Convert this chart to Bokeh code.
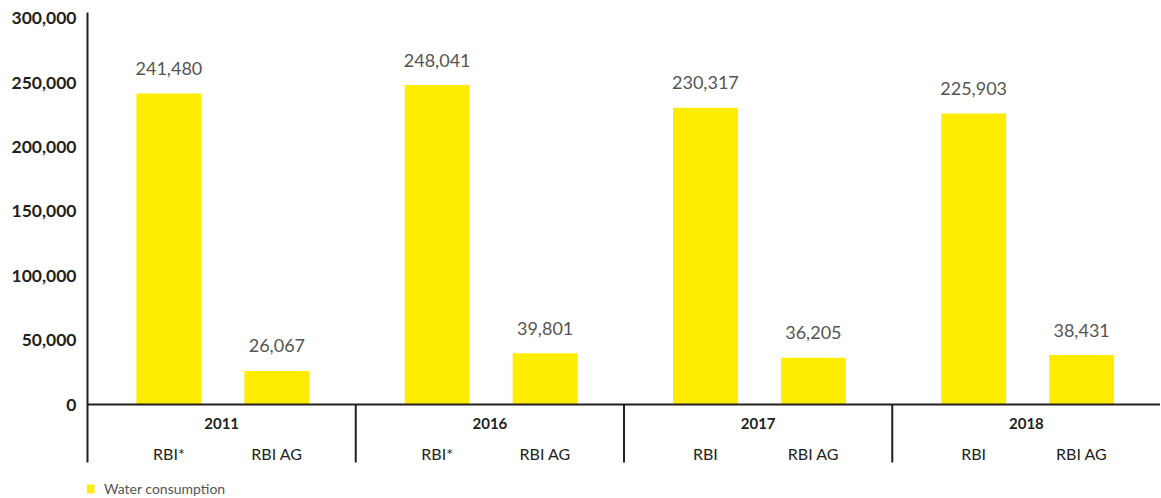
from bokeh.plotting import figure
from bokeh.models import Range1d, FixedTicker, NumeralTickFormatter, Span, Legend, LegendItem
from bokeh.core.properties import value
from bokeh.embed import file_html
from bokeh.resources import INLINE

years = ["2011", "2016", "2017", "2018"]
entities_first = ["RBI*", "RBI*", "RBI", "RBI"]
entities_second = ["RBI AG", "RBI AG", "RBI AG", "RBI AG"]
rbi_values = [241480, 248041, 230317, 225903]
rbi_ag_values = [26067, 39801, 36205, 38431]
y_ticks = [0, 50000, 100000, 150000, 200000, 250000, 300000]
series_name = "Water consumption"

FONT = "Lato"
YELLOW = "#ffed00"
DARK = "#231f20"

Y_TOP = 304350
Y_AXIS_FLOOR = -45030
Y_FRAME_BOTTOM = -72980

n = len(years)
x_first = [i + 0.3035 for i in range(n)]
x_second = [i + 0.706 for i in range(n)]
x_group = [i + 0.5 for i in range(n)]
x_bars = x_first + x_second
bar_values = rbi_values + rbi_ag_values

p = figure(width=1160, height=498, output_backend="svg", toolbar_location=None,
           x_range=Range1d(0, n), y_range=Range1d(Y_FRAME_BOTTOM, Y_TOP),
           x_axis_location=None,
           min_border_left=87, min_border_right=0, min_border_top=12, min_border_bottom=0)
p.outline_line_color = None
p.grid.visible = False
p.background_fill_color = "white"
p.border_fill_color = "white"

ax = p.yaxis[0]
ax.ticker = FixedTicker(ticks=y_ticks)
ax.formatter = NumeralTickFormatter(format="0,0")
ax.bounds = (Y_AXIS_FLOOR, Y_TOP)
ax.axis_line_color = DARK
ax.axis_line_width = 2
ax.major_tick_line_color = None
ax.minor_tick_line_color = None
ax.major_tick_out = 0
ax.major_tick_in = 0
ax.minor_tick_out = 0
ax.major_label_standoff = 11
ax.major_label_text_font = FONT
ax.major_label_text_font_size = "17.5px"
ax.major_label_text_font_style = "bold"
ax.major_label_text_color = DARK

bars = p.vbar(x=x_bars, top=bar_values, bottom=0, width=0.242,
              fill_color=YELLOW, line_color=None)

p.add_layout(Span(location=0, dimension="width", line_color=DARK, line_width=2))

seps = list(range(1, n))
p.segment(x0=seps, y0=[0] * len(seps), x1=seps, y1=[Y_AXIS_FLOOR] * len(seps),
          line_color=DARK, line_width=2)

p.text(x=x_bars, y=bar_values, text=[f"{v:,}" for v in bar_values],
       text_align="center", text_baseline="middle", y_offset=-25,
       text_font=value(FONT), text_font_size="18px", text_color="#555555")

p.text(x=x_group, y=[0] * n, text=years, text_align="center", text_baseline="middle",
       y_offset=19, text_font=value(FONT), text_font_size="15px",
       text_font_style="bold", text_color=DARK)

p.text(x=x_first + x_second, y=[0] * (2 * n), text=entities_first + entities_second,
       text_align="center", text_baseline="middle", y_offset=49,
       text_font=value(FONT), text_font_size="16px", text_color=DARK)

legend = Legend(items=[LegendItem(label=series_name, renderers=[bars])],
                location=(-3, 1), orientation="horizontal",
                glyph_width=11, glyph_height=11, label_standoff=9, label_height=11,
                padding=0, margin=0, spacing=0,
                border_line_color=None, background_fill_alpha=0,
                label_text_font=FONT, label_text_font_size="14px",
                label_text_color="#555555")
p.add_layout(legend)

open("out.html", "w").write(file_html(p, INLINE))
